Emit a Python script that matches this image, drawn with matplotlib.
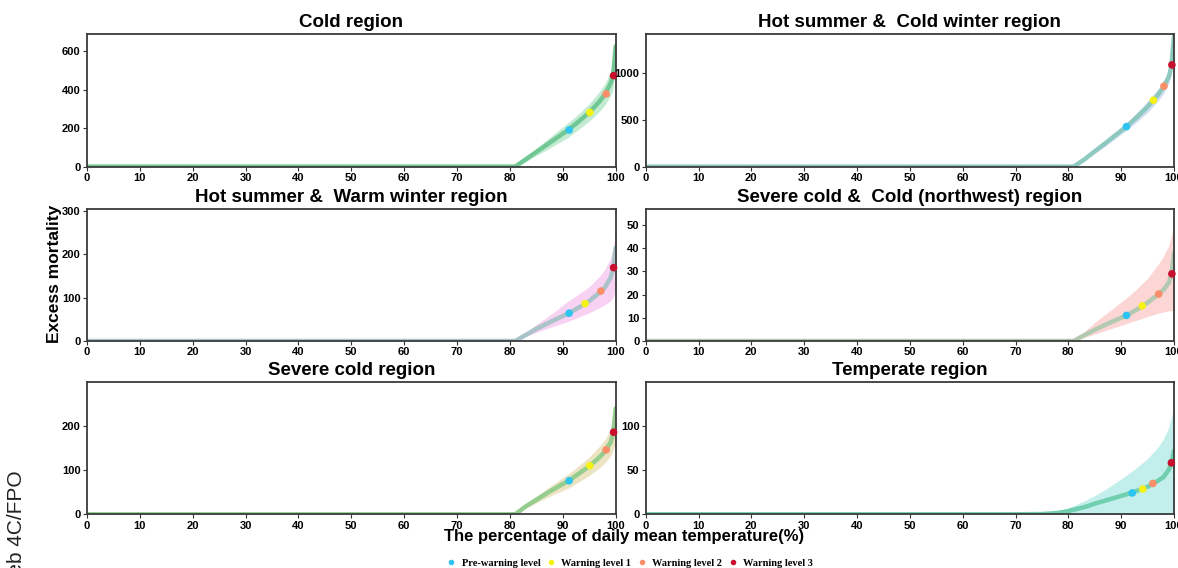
import matplotlib
matplotlib.use("Agg")
import matplotlib.pyplot as plt
from matplotlib.lines import Line2D

# percentiles of daily mean temperature
pct = [0, 10, 20, 30, 40, 50, 60, 70, 80, 81, 83, 85, 87, 89, 91, 93, 95, 97, 98, 99, 99.5, 100]
pct_temp = [0, 10, 20, 30, 40, 50, 60, 70, 75, 78, 80, 83, 85, 87, 89, 91, 93, 95, 97, 98, 99, 99.5, 100]
zeros8 = [0, 0, 0, 0, 0, 0, 0, 0]

# Cold region
cold_mid = zeros8 + [0, 0, 38, 76, 114, 152, 190, 234, 281, 340, 377, 430, 470, 625]
cold_lo = zeros8 + [0, 0, 26, 58, 88, 120, 152, 194, 236, 288, 322, 368, 402, 555]
cold_hi = zeros8 + [0, 0, 50, 94, 140, 184, 228, 274, 326, 392, 432, 492, 538, 690]
# Hot summer & cold winter
hscw_mid = zeros8 + [0, 0, 75, 163, 250, 340, 428, 530, 640, 770, 850, 960, 1070, 1400]
hscw_lo = zeros8 + [0, 0, 65, 143, 220, 305, 388, 480, 580, 705, 780, 890, 1000, 1340]
hscw_hi = zeros8 + [0, 0, 85, 183, 280, 375, 468, 580, 700, 835, 920, 1030, 1140, 1460]
# Hot summer & warm winter
hsww_mid = zeros8 + [0, 0, 14, 28, 40, 52, 63, 77, 92, 112, 124, 145, 165, 215]
hsww_lo = zeros8 + [0, 0, 10, 20, 29, 37, 45, 55, 65, 77, 84, 92, 100, 120]
hsww_hi = zeros8 + [0, 0, 20, 38, 55, 73, 92, 108, 125, 150, 166, 190, 212, 252]
# Severe cold & cold (northwest)
scnw_mid = zeros8 + [0, 0, 2.5, 4.8, 7, 9, 11, 13.6, 16.5, 20, 22, 25, 28.5, 38]
scnw_lo = zeros8 + [0, 0, 1.5, 3, 4.5, 6, 7.5, 9, 10.5, 12, 12.5, 13, 13, 13]
scnw_hi = zeros8 + [0, 0, 4, 8, 11.5, 15, 18.5, 22.5, 27, 33, 36.5, 41, 45, 51]
# Severe cold
sc_mid = zeros8 + [0, 0, 18, 33, 48, 62, 75, 92, 109, 130, 143, 162, 182, 240]
sc_lo = zeros8 + [0, 0, 14, 26, 38, 49, 59, 73, 88, 106, 117, 132, 145, 165]
sc_hi = zeros8 + [0, 0, 22, 40, 58, 75, 91, 110, 130, 155, 170, 190, 210, 250]
# Temperate
temp_mid = zeros8 + [0.3, 1.5, 3.7, 8, 12, 15.5, 19, 22.5, 26.5, 31, 38, 42, 50, 58, 72]
temp_lo = zeros8 + [0, 0, 0, 0, 0, 0, 0, 0, 0, 0, 0, 0, 0, 0, 0]
temp_hi = zeros8 + [0.5, 2.5, 7, 15, 21, 28, 36, 44, 53, 63, 76, 85, 98, 109, 122]

# warning level points (percentile, excess mortality)
cold_pts_x = [91.2, 95.1, 98.2, 99.6]
cold_pts_y = [190, 281, 377, 472]
hscw_pts_x = [91.0, 96.1, 98.1, 99.6]
hscw_pts_y = [428, 711, 861, 1089]
hsww_pts_x = [91.2, 94.2, 97.2, 99.6]
hsww_pts_y = [64, 86, 115, 169]
scnw_pts_x = [91.0, 94.0, 97.1, 99.6]
scnw_pts_y = [11.0, 15.1, 20.2, 28.9]
sc_pts_x = [91.2, 95.1, 98.2, 99.6]
sc_pts_y = [76, 110, 146, 186]
temp_pts_x = [92.1, 94.1, 96.0, 99.5]
temp_pts_y = [24.1, 28.5, 34.8, 58.1]

titles = ["Cold region", "Hot summer &  Cold winter region", "Hot summer &  Warm winter region",
          "Severe cold &  Cold (northwest) region", "Severe cold region", "Temperate region"]
level_labels = ["Pre-warning level", "Warning level 1", "Warning level 2", "Warning level 3"]
level_colors = ["#2ec4f2", "#f4f214", "#f98e68", "#c8102e"]

panels = [
    (pct, cold_mid, cold_lo, cold_hi, cold_pts_x, cold_pts_y, 688, [0, 200, 400, 600], "#c2ebd2", "#72c895"),
    (pct, hscw_mid, hscw_lo, hscw_hi, hscw_pts_x, hscw_pts_y, 1420, [0, 500, 1000], "#d3def4", "#8ec9c0"),
    (pct, hsww_mid, hsww_lo, hsww_hi, hsww_pts_x, hsww_pts_y, 304, [0, 100, 200, 300], "#f8d2f2", "#a9c3c9"),
    (pct, scnw_mid, scnw_lo, scnw_hi, scnw_pts_x, scnw_pts_y, 56.8, [0, 10, 20, 30, 40, 50], "#fcd6d4", "#b3c9b1"),
    (pct, sc_mid, sc_lo, sc_hi, sc_pts_x, sc_pts_y, 299, [0, 100, 200], "#ebe3c2", "#95cd8e"),
    (pct_temp, temp_mid, temp_lo, temp_hi, temp_pts_x, temp_pts_y, 149, [0, 50, 100], "#c2eeeb", "#70cfaf"),
]

W, H = 1178, 568
fig = plt.figure(figsize=(W / 100, H / 100), dpi=100)
plt.rcParams['font.family'] = ['Liberation Sans', 'DejaVu Sans']

cols = [(87, 615.7), (645.7, 1174)]
rows = [(34, 166.6), (209, 341), (382.3, 514.3)]

for i, (xs, mid, lo, hi, px, py, ymax, yt, band_c, line_c) in enumerate(panels):
    c0, c1 = cols[i % 2]
    r0, r1 = rows[i // 2]
    ax = fig.add_axes([c0 / W, 1 - r1 / H, (c1 - c0) / W, (r1 - r0) / H])
    ax.fill_between(xs, lo, hi, color=band_c, lw=0, zorder=1)
    ax.plot(xs, mid, color=line_c, lw=3.2, solid_capstyle='round', zorder=2)
    ax.scatter(px, py, s=30, c=level_colors, zorder=4, clip_on=False, linewidths=0)
    ax.set_xlim(0, 100)
    ax.set_ylim(0, ymax)
    ax.set_xticks(range(0, 101, 10))
    ax.set_yticks(yt)
    ax.tick_params(direction='out', length=3, width=0.8, pad=1.5, labelsize=8, color='#333333')
    for lab in ax.get_xticklabels() + ax.get_yticklabels():
        lab.set_fontweight('bold')
    for sp in ax.spines.values():
        sp.set_color('#3a3a3a')
        sp.set_linewidth(1.3)
    ax.set_title(titles[i], fontsize=13.5, fontweight='bold', pad=5)

fig.text(55 / W, 0.518, "Excess mortality", rotation=90, ha='center', va='center',
         fontsize=12.5, fontweight='bold')
fig.text(624.5 / W, 1 - 536 / H, "The percentage of daily mean temperature(%)",
         ha='center', va='center', fontsize=12, fontweight='bold')
fig.text(17 / W, 1 - 470 / H, "Web 4C/FPO", rotation=90, ha='center', va='top',
         fontsize=15, color='#222222')

handles = [Line2D([], [], ls='none', marker='o', markersize=4, markerfacecolor=c, markeredgewidth=0)
           for c in level_colors]
fig.legend(handles, level_labels, loc='center', bbox_to_anchor=(630 / W, 1 - 563 / H), ncol=4,
           frameon=False, handlelength=0.8, handletextpad=0.6, columnspacing=0.6,
           prop={'family': 'Liberation Serif', 'weight': 'bold', 'size': 7.5})

fig.savefig("out.png", dpi=100)
